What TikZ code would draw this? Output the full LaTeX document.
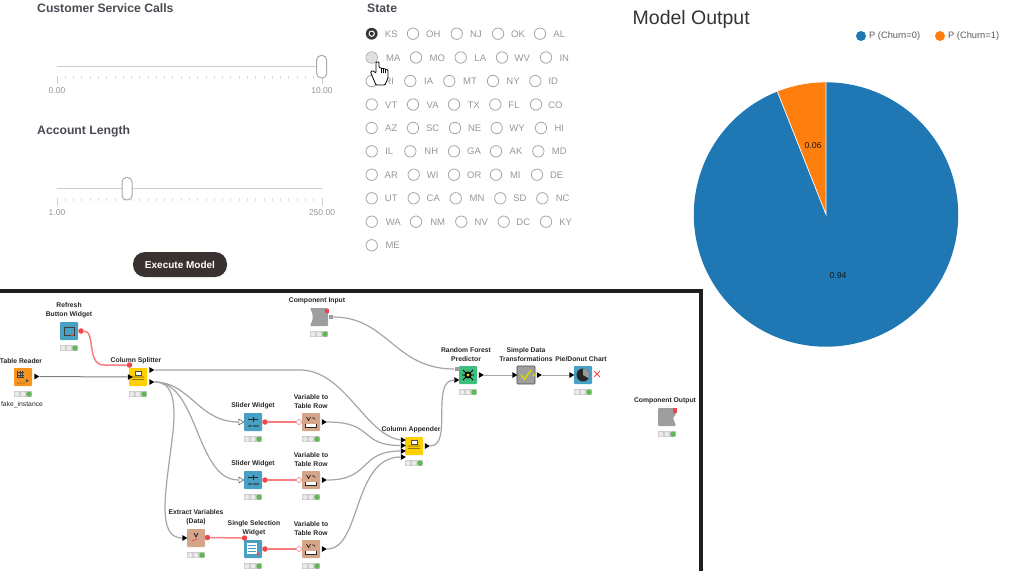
\documentclass[tikz,border=0pt]{standalone}
\usepackage{fontspec}
\setmainfont{Liberation Sans}
\usetikzlibrary{shapes.geometric, positioning, calc}
\definecolor{inkgray}{RGB}{74, 74, 84}
\definecolor{softgray}{RGB}{150, 150, 150}
\definecolor{trackgray}{RGB}{205, 205, 205}
\definecolor{wiregray}{RGB}{165, 165, 165}
\definecolor{btndark}{RGB}{58, 49, 49}
\definecolor{pieblue}{RGB}{31, 119, 180}
\definecolor{pieorange}{RGB}{255, 127, 14}
\definecolor{flowred}{RGB}{240, 70, 75}
\definecolor{flowpink}{RGB}{248, 125, 125}
\definecolor{viewblue}{RGB}{72, 160, 196}
\definecolor{readorange}{RGB}{247, 148, 30}
\definecolor{manipyellow}{RGB}{255, 208, 0}
\definecolor{varbrown}{RGB}{212, 165, 136}
\definecolor{predgreen}{RGB}{60, 190, 125}
\definecolor{metagray}{RGB}{158, 158, 158}
\definecolor{ledgreen}{RGB}{95, 185, 85}
\newcommand{\uifont}[1]{\fontsize{#1}{#1}\selectfont}
\tikzset{
  heading/.style={anchor=west, inner sep=0pt, text=inkgray, font=\uifont{12.2}\bfseries},
  ticklabel/.style={inner sep=0pt, text=softgray, font=\uifont{8.5}},
  radio/.style={circle, draw=softgray!85, line width=0.8pt, fill=white, minimum size=11.4pt, inner sep=0pt},
  statelabel/.style={inner sep=0pt, text=softgray, font=\uifont{9.5}},
  handle/.style={draw=softgray!80, line width=1pt, fill=white, rounded corners=4.5pt, minimum width=10pt, minimum height=22.5pt, inner sep=0pt},
  knime/.style={rectangle, rounded corners=0.8pt, minimum size=18pt, inner sep=0pt},
  nodelabel/.style={inner sep=0pt, align=center, text=black!85, font=\fontsize{6.8}{8.7}\selectfont\bfseries},
  statusbar/.style={rectangle, fill=black!20, minimum width=18pt, minimum height=6.5pt, inner sep=0pt},
  dataport/.style={isosceles triangle, isosceles triangle apex angle=60, fill=black, minimum size=5pt, inner sep=0pt},
  hollowport/.style={dataport, fill=white, draw=black!70, line width=0.5pt},
  flowport/.style={circle, fill=flowred, minimum size=5.5pt, inner sep=0pt},
  hollowflow/.style={circle, fill=white, draw=flowred!70, line width=0.6pt, minimum size=5pt, inner sep=0pt},
  wire/.style={draw=wiregray, line width=1.2pt},
  darkwire/.style={draw=black!50, line width=1pt},
}
% node body, its status lights and its caption
\newcommand{\knimenode}[6][0pt]{
  \node[knime, fill=#5] (#2) at (#3,#4) {};
  \node[statusbar, below=4.5pt of #2] (#2status) {};
  \foreach \dx in {-6,0} {\fill[white!92!black] ($(#2status)+(\dx,0)$) circle (2.4pt);}
  \fill[ledgreen] ($(#2status)+(6,0)$) circle (2.7pt);
  \node[nodelabel, above=4pt of #2, xshift=#1] (#2label) {#6};
}
\newcommand{\sliderglyph}[1]{
  \begin{scope}[shift={(#1)}]
    \draw[black!85, line width=0.7pt] (-5,-2.5) -- (5,-2.5) (0,-5) -- (0,0);
    \foreach \dx in {-4,-2,1,3,5} {\fill[black!85] (\dx,4) circle (0.8pt);}
  \end{scope}
}
\newcommand{\varrowglyph}[1]{
  \begin{scope}[shift={(#1)}]
    \draw[black!85, line width=0.7pt] (-4.5,-5) -- (-2.5,-1.5) -- (-0.5,-5);
    \draw[black!85, line width=0.6pt] (1,-4) -- (3,-4) -- (4,-2.5);
    \draw[black!85, fill=white, line width=0.6pt] (-5.5,1.5) -- (-5.5,5) -- (5.5,5) -- (5.5,1.5);
    \fill[white] (-4.5,3) rectangle (4.5,4.5);
  \end{scope}
}
\newcommand{\splitglyph}[1]{
  \begin{scope}[shift={(#1)}]
    \draw[black!70, fill=white, line width=0.5pt] (-3,-6) rectangle (3,-2);
    \foreach \dx in {-5,-3,-1,1,3,5} {\fill[black!85] (\dx,0) circle (0.7pt); \fill[black!85] (\dx,2.5) circle (0.7pt);}
  \end{scope}
}
\begin{document}
\begin{tikzpicture}[x=1pt, y=-1pt]
  \useasboundingbox (0,0) rectangle (1024,571);

  % --- Sliders ---
  \node[heading] (callstitle) at (37,8) {Customer Service Calls};
  \node[heading] (lengthtitle) at (37,131) {Account Length};
  \foreach \ty/\hx/\lo/\hi in {66.7/321.7/0.00/10.00, 188.7/127/1.00/250.00} {
    \draw[trackgray, line width=1.5pt] (57,\ty) -- (322,\ty);
    \foreach \tk in {0,...,32} {
      \draw[trackgray!70, line width=0.9pt] (57+8.28*\tk,\ty+9.5) -- ++(0,3);
    }
    \draw[trackgray, line width=0.8pt] (57,\ty+9.5) -- ++(0,8) (322,\ty+9.5) -- ++(0,8);
    \node[handle] at (\hx,\ty) {};
    \node[ticklabel] at (57,\ty+24.3) {\lo};
    \node[ticklabel] at (322,\ty+24.3) {\hi};
  }
  \node[rectangle, rounded corners=12pt, fill=btndark, minimum width=94pt, minimum height=25pt, inner sep=0pt, text=white, font=\uifont{10}\bfseries] (execbtn) at (180,264.5) {Execute Model};

  % --- State radio buttons ---
  \node[heading] (statetitle) at (367,8) {State};
  \foreach \ry/\cells in {
    33.7/{371.7/391.3/KS, 413/433.3/OH, 456.7/476/NJ, 498/518/OK, 540/559.3/AL},
    57.5/{371.7/393.3/MA, 416/437.3/MO, 460.7/480.3/LA, 502/522.3/WV, 546/564.3/IN},
    81/{371.7/389.3/RI, 410.3/428.7/IA, 449.3/470/MT, 493/513/NY, 535.3/553.3/ID},
    104.5/{371.7/391.3/VT, 413/432.7/VA, 454/473.7/TX, 495.3/514/FL, 536/555.3/CO},
    128/{371.7/391.3/AZ, 413/432.7/SC, 455/474.7/NE, 496.7/517/WY, 541/559.3/HI},
    151.3/{371.7/389.3/IL, 410.3/431.3/NH, 454/474/GA, 496/516/AK, 538.3/559.3/MD},
    174.7/{371.7/391.3/AR, 413.7/432.7/WI, 454/474.3/OR, 496/515.3/MI, 537/556.7/DE},
    198.3/{371.7/391.3/UT, 413.7/433.3/CA, 455.7/477/MN, 500.3/520/SD, 542.3/562.7/NC},
    221.7/{371.7/393.3/WA, 416/437.7/NM, 461.3/481.3/NV, 503.7/523.3/DC, 546/565.7/KY},
    245.3/{371.7/392.7/ME}} {
    \foreach \cx/\tx/\st in \cells {
      \node[radio] (radio\st) at (\cx,\ry) {};
      \node[statelabel] (state\st) at (\tx,\ry+0.3) {\st};
    }
  }
  \fill[black!80] (radioKS) circle (5.7pt);
  \fill[white] (radioKS) circle (3.2pt);
  \fill[black!80] (radioKS) circle (2pt);
  \fill[black!12] (radioMA) circle (5.2pt);
  % pointer
  \draw[black, fill=white, line width=0.8pt, line join=round, rounded corners=0.8pt]
    (376,62) -- (376,73) -- (372.5,70.5) -- (370.5,72) -- (373,78) -- (376,85) -- (385,85) -- (388,78)
    -- (388,70) -- (385.5,69) -- (383,68.5) -- (381,68) -- (379,67.5) -- (379,62) -- cycle;
  \draw[black, line width=0.6pt] (381,68) -- (381,73) (383,68.5) -- (383,73) (385.5,69) -- (385.5,73);

  % --- Model output pie ---
  \node[anchor=west, inner sep=0pt, text=black!80, font=\uifont{19.5}] (outputtitle) at (632.5,19) {Model Output};
  \fill[pieblue] (861,36) circle (5pt);
  \node[anchor=west, inner sep=0pt, text=black!65, font=\uifont{9.3}] (legendzero) at (869,36.3) {P (Churn=0)};
  \fill[pieorange] (940,36) circle (5pt);
  \node[anchor=west, inner sep=0pt, text=black!65, font=\uifont{9.3}] (legendone) at (948,36.3) {P (Churn=1)};
  \begin{scope}[shift={(826,214.5)}, x=1pt, y=1pt]
    \fill[pieblue] (0,0) -- (90:132.2) arc (90:-248.4:132.2) -- cycle;
    \fill[pieorange] (0,0) -- (90:132.2) arc (90:111.6:132.2) -- cycle;
    \draw[white, line width=0.7pt] (90:132.2) -- (0,0) -- (111.6:132.2);
  \end{scope}
  \node[inner sep=0pt, text=black!90, font=\uifont{8.7}] (piezero) at (838,275.5) {0.94};
  \node[inner sep=0pt, text=black!90, font=\uifont{8.7}] (pieone) at (813,145.5) {0.06};

  % --- Workflow frame ---
  \draw[black!88, line width=4pt] (0,290.5) -- (700.5,290.5) -- (700.5,571);

  % --- Workflow nodes ---
  \knimenode{refresh}{69}{331}{viewblue}{Refresh\\Button Widget}
  \knimenode[-2pt]{reader}{23}{377}{readorange}{Table Reader}
  \knimenode[-2pt]{splitter}{138}{377}{manipyellow}{Column Splitter}
  \knimenode[-2pt]{compin}{319}{317}{white}{Component Input}
  \knimenode{sliderA}{253}{422}{viewblue}{Slider Widget}
  \knimenode{varrowA}{311}{422}{varbrown}{Variable to\\Table Row}
  \knimenode{sliderB}{253}{480}{viewblue}{Slider Widget}
  \knimenode{varrowB}{311}{480}{varbrown}{Variable to\\Table Row}
  \knimenode{extract}{196}{538}{varbrown}{Extract Variables\\(Data)}
  \knimenode[1pt]{select}{253}{549}{viewblue}{Single Selection\\Widget}
  \knimenode{varrowC}{311}{549}{varbrown}{Variable to\\Table Row}
  \knimenode[-3pt]{appender}{414}{446}{manipyellow}{Column Appender}
  \knimenode[-2pt]{forest}{468}{375}{predgreen}{Random Forest\\Predictor}
  \knimenode[-2pt]{pie}{583}{375}{viewblue}{Pie/Donut Chart}
  \knimenode[-2pt]{compout}{667}{417}{white}{Component Output}
  % wrapped metanode has no status row
  \node[knime, fill=metagray, draw=black!70, line width=0.6pt] (simple) at (526,375) {};
  \node[nodelabel, above=4pt of simple] (simplelabel) {Simple Data\\Transformations};
  \node[nodelabel, below=4pt of readerstatus, xshift=-1pt, font=\fontsize{6.8}{8}\selectfont] (fakelabel) {fake\_instance};

  % component in and out bodies
  \fill[metagray, rounded corners=1pt] (310,308) -- (328,308) -- (328,326) -- (310,326) -- (312.5,320) -- (312.5,314) -- cycle;
  \fill[metagray, rounded corners=1pt] (658,408) -- (676,408) -- (676,414) -- (673,418) -- (676,426) -- (658,426) -- cycle;
  \fill[flowred] (325,309) rectangle (329,313);
  \fill[flowred] (672.5,408) rectangle (677,412.5);

  % --- Ports ---
  \foreach \pname/\px/\py in {readerOut/36/376.5, splitIn/129.5/377, splitOutA/151/370, splitOutB/151/382,
    varrowAOut/323.5/422, varrowBOut/323.5/480, varrowCOut/323.5/549, extractIn/184/538,
    appInA/402.5/440, appInB/402.5/445.5, appInC/402.5/451, appInD/402.5/457, appOut/426.5/446,
    forestIn/456/380, forestOut/480.5/375, simpleIn/514/375, simpleOut/538.5/375, pieIn/571/375} {
    \node[dataport] (\pname) at (\px,\py) {};
  }
  \foreach \pname/\py in {sliderAIn/422, sliderBIn/480} {
    \node[hollowport] (\pname) at (240.5,\py) {};
  }
  \foreach \pname/\px/\py in {refreshOut/81/331, splitFlow/129.5/365, sliderAOut/265/422, sliderBOut/265/480,
    extractOut/207.5/537.5, selectFlow/244.5/538, selectOut/265/549} {
    \node[flowport] (\pname) at (\px,\py) {};
  }
  \foreach \pname/\px/\py in {varrowAIn/299/422, varrowBIn/299/480, varrowCIn/299/549} {
    \node[hollowflow] (\pname) at (\px,\py) {};
  }
  \node[rectangle, fill=metagray, minimum width=4.5pt, minimum height=4.5pt, inner sep=0pt] (compinOut) at (331,317) {};
  \node[rectangle, fill=metagray, minimum width=5pt, minimum height=4pt, inner sep=0pt] (forestPort) at (457,369) {};

  % --- Data connections ---
  \draw[darkwire] (readerOut) -- (splitIn);
  \draw[darkwire, draw=black!35] (forestOut) -- (simpleIn);
  \draw[darkwire, draw=black!35] (simpleOut) -- (pieIn);
  \draw[wire] (splitOutA.east) -- (300,370) .. controls (345,370) and (365,435) .. (appInA.west);
  \draw[wire] (splitOutB.east) .. controls +(35,0) and +(-40,0) .. (sliderAIn.west);
  \draw[wire] (splitOutB.east) .. controls +(44,0) and +(-43,0) .. (sliderBIn.west);
  \draw[wire] (splitOutB.east) .. controls (170,382) and (178,395) .. (172,440) .. controls (166,490) and (156,538) .. (extractIn.west);
  \draw[wire] (varrowAOut.east) .. controls +(48,0) and +(-42,0) .. (appInB.west);
  \draw[wire] (varrowBOut.east) .. controls +(44,0) and +(-42,0) .. (appInC.west);
  \draw[wire] (varrowCOut.east) .. controls +(34,0) and +(-48,0) .. (appInD.west);
  \draw[wire] (appOut.east) .. controls +(23,0) and +(-24,0) .. (forestIn.west);
  \draw[wire] (compinOut.east) .. controls +(54,0) and +(-60,0) .. (forestPort.west);

  % --- Flow variable connections ---
  \foreach \fa/\fb in {sliderAOut/varrowAIn, sliderBOut/varrowBIn, selectOut/varrowCIn, extractOut/selectFlow} {
    \draw[flowpink, line width=1.5pt] (\fa) -- (\fb);
  }
  \draw[flowpink, line width=1.5pt] (refreshOut) .. controls (96,331) and (86,365) .. (104,365) -- (splitFlow);

  % --- Node glyphs ---
  \sliderglyph{sliderA}
  \sliderglyph{sliderB}
  \varrowglyph{varrowA}
  \varrowglyph{varrowB}
  \varrowglyph{varrowC}
  \splitglyph{splitter}
  \splitglyph{appender}
  \draw[black!75, line width=0.7pt] ($(refresh)+(-5,-4)$) rectangle ($(refresh)+(5,4)$);
  \fill[flowred] ($(refresh)+(3,4)$) circle (1.5pt);
  \draw[black!75, line width=0.5pt, step=2.5pt] ($(reader)+(-6,-6)$) grid ($(reader)+(1,1)$);
  \fill[black!75] ($(reader)+(6,4)$) -- ($(reader)+(3,2)$) -- ($(reader)+(3,5)$) -- cycle;
  \foreach \dx in {-5,-2,1} {\fill[black!75] ($(reader)+(\dx,6)$) circle (0.7pt);}
  \draw[black!85, line width=0.8pt] ($(extract)+(-2,-5)$) -- ($(extract)+(0,-1)$) -- ($(extract)+(2,-5)$);
  \draw[flowred, line width=0.7pt] ($(extract)+(-4,3)$) -- ($(extract)+(1,1)$);
  \fill[white] ($(select)+(-6,-6)$) rectangle ($(select)+(4,5)$);
  \foreach \dy in {-4,-1,2} {\draw[viewblue, line width=0.8pt] ($(select)+(-5,\dy)$) -- ($(select)+(3,\dy)$);}
  \fill[flowred] ($(select)+(5,5)$) circle (1.6pt);
  \draw[black, line width=0.9pt] ($(forest)+(-5,-5)$) -- ($(forest)+(5,5)$) ($(forest)+(-5,5)$) -- ($(forest)+(5,-5)$) ($(forest)+(-6,0)$) -- ($(forest)+(6,0)$);
  \fill[black] (forest.center) circle (3.5pt);
  \fill[manipyellow] (forest.center) circle (1.6pt);
  \draw[manipyellow!80!green, line width=1.6pt] ($(simple)+(-5,0)$) -- ($(simple)+(-1.5,4)$) -- ($(simple)+(5,-5)$);
  \fill[manipyellow!80!green] (534,375) circle (1.6pt);
  \fill[black!85] (pie.center) circle (6.5pt);
  \fill[black!40] (pie.center) -- ($(pie.center)+(0,-6.5)$) arc (90:-30:6.5pt) -- cycle;
  \draw[flowred, line width=0.8pt] ($(pie)+(11,-4)$) -- ($(pie)+(17,2)$) ($(pie)+(11,2)$) -- ($(pie)+(17,-4)$);
\end{tikzpicture}
\end{document}
